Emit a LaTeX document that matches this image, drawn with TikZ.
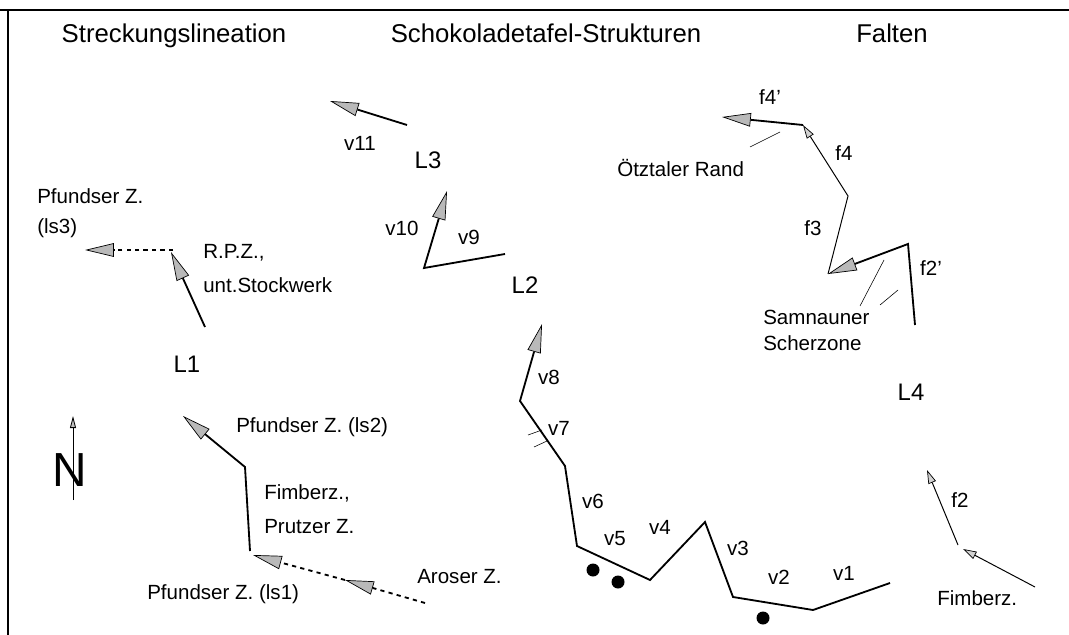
\documentclass[tikz,border=0pt]{standalone}
\usepackage{fontspec}
\setmainfont{Liberation Sans}
\usetikzlibrary{arrows.meta}

\begin{document}
\begin{tikzpicture}[x=0.025cm,y=-0.025cm,
  ttl/.style={font=\fontsize{18.3}{21}\selectfont,anchor=base},
  lbl/.style={font=\fontsize{14.6}{17}\selectfont},
  bigl/.style={font=\fontsize{17}{20}\selectfont},
  vec/.style={line width=1.3pt,-{Triangle[length=0.72cm,width=0.34cm,line width=0.5pt,fill=gray!55]}},
  thinvec/.style={line width=0.7pt,-{Triangle[length=0.34cm,width=0.2cm,line width=0.5pt,fill=gray!35]}},
  leader/.style={line width=0.4pt}]
\tikzstyle{every node}+=[inner sep=0pt]
\useasboundingbox (0,0) rectangle (1069,635);
\draw [line width=1.4pt] (0,10) -- (1069,10);
\draw [line width=1.4pt] (8,10) -- (8,635);
\node [ttl] (t1) at (174,43) {Streckungslineation};
\node [ttl] (t2) at (546,43) {Schokoladetafel-Strukturen};
\node [ttl] (t3) at (892,43) {Falten};
\coordinate (a3) at (173,250);
\coordinate (a3t) at (85,250);
\coordinate (a2) at (205,327);
\coordinate (a2t) at (171,252);
\draw [vec,dashed] (a3) -- (a3t);
\draw [vec] (a2) -- (a2t);
\node [lbl,anchor=west] (pz3) at (37,196) {Pfundser Z.};
\node [lbl,anchor=west] (ls3) at (37,228) {(ls3)};
\node [lbl,anchor=west] (rpz) at (203,253) {R.P.Z.,};
\node [lbl,anchor=west] (uns) at (203,285) {unt.Stockwerk};
\node [bigl] (l1) at (187,364) {L1};
\coordinate (b0) at (250,551);
\coordinate (b1) at (245,467);
\coordinate (b2) at (183,416);
\draw [vec] (b0) -- (b1) -- (b2);
\coordinate (c0) at (425,603);
\coordinate (c1) at (345,580);
\coordinate (c2) at (253,555);
\draw [vec,dashed] (c0) -- (c1);
\draw [vec,dashed] (c1) -- (c2);
\node [lbl,anchor=west] (pz2) at (236,427) {Pfundser Z. (ls2)};
\node [lbl,anchor=west] (fz) at (264,493) {Fimberz.,};
\node [lbl,anchor=west] (pr) at (264,527) {Prutzer Z.};
\node [lbl,anchor=west] (aro) at (417,577) {Aroser Z.};
\node [lbl,anchor=west] (pz1) at (147,594) {Pfundser Z. (ls1)};
\coordinate (n0) at (73,500);
\coordinate (n1) at (73,416);
\draw [line width=0.6pt,-{Triangle[length=0.3cm,width=0.15cm,fill=gray!50]}] (n0) -- (n1);
\node [font=\fontsize{34}{36}\selectfont] (north) at (70,470) {N};
\coordinate (w0) at (407,125);
\coordinate (w1) at (330,101);
\draw [vec] (w0) -- (w1);
\coordinate (v9a) at (505,254);
\coordinate (v9b) at (424,268);
\coordinate (v10t) at (447,191);
\draw [vec] (v9a) -- (v9b) -- (v10t);
\node [lbl] (v11) at (360,143) {v11};
\node [bigl] (l3) at (428,160) {L3};
\node [lbl] (v10) at (402,228) {v10};
\node [lbl] (v9) at (469,237) {v9};
\node [bigl] (l2) at (525,285) {L2};
\coordinate (p1) at (890,583);
\coordinate (p2) at (813,610);
\coordinate (p3) at (733,597);
\coordinate (p4) at (705,522);
\coordinate (p5) at (650,580);
\coordinate (p6) at (577,546);
\coordinate (p7) at (565,466);
\coordinate (p8) at (520,401);
\coordinate (p9) at (542,324);
\draw [vec] (p1) -- (p2) -- (p3) -- (p4) -- (p5) -- (p6) -- (p7) -- (p8) -- (p9);
\draw [leader] (528,435) -- (542,430);
\draw [leader] (534,447) -- (547,441);
\fill (593,570) circle (6.5);
\fill (618,582) circle (6.5);
\fill (763,618) circle (6.5);
\node [lbl] (v8) at (549,377) {v8};
\node [lbl] (v7) at (559,428) {v7};
\node [lbl] (v6) at (593,501) {v6};
\node [lbl] (v5) at (615,539) {v5};
\node [lbl] (v4) at (660,527) {v4};
\node [lbl] (v3) at (738,548) {v3};
\node [lbl] (v2) at (779,577) {v2};
\node [lbl] (v1) at (844,573) {v1};
\coordinate (q0) at (915,325);
\coordinate (q1) at (908,244);
\coordinate (q2) at (828,274);
\coordinate (q3) at (848,196);
\coordinate (q4) at (803,125);
\coordinate (r1) at (722,117);
\draw [vec] (q0) -- (q1) -- (q2);
\draw [thinvec] (q2) -- (q3) -- (q4);
\draw [vec] (q4) -- (r1);
\coordinate (s0) at (958,545);
\coordinate (s1) at (927,470);
\coordinate (u0) at (1035,587);
\coordinate (u1) at (963,549);
\draw [thinvec] (s0) -- (s1);
\draw [thinvec] (u0) -- (u1);
\draw [leader] (780,132) -- (750,147);
\draw [leader] (884,260) -- (860,306);
\draw [leader] (898,290) -- (880,305);
\node [lbl] (f4p) at (770,97) {f4'};
\node [lbl] (f4) at (844,153) {f4};
\node [lbl] (f3) at (813,228) {f3};
\node [lbl] (f2p) at (931,268) {f2'};
\node [lbl] (f2) at (960,500) {f2};
\node [lbl,anchor=west] (oetz) at (617,168) {Ötztaler Rand};
\node [lbl,anchor=west] (sam) at (763,317) {Samnauner};
\node [lbl,anchor=west] (sch) at (763,343) {Scherzone};
\node [bigl] (l4) at (911,392) {L4};
\node [lbl,anchor=west] (fim) at (937,598) {Fimberz.};
\end{tikzpicture}
\end{document}
